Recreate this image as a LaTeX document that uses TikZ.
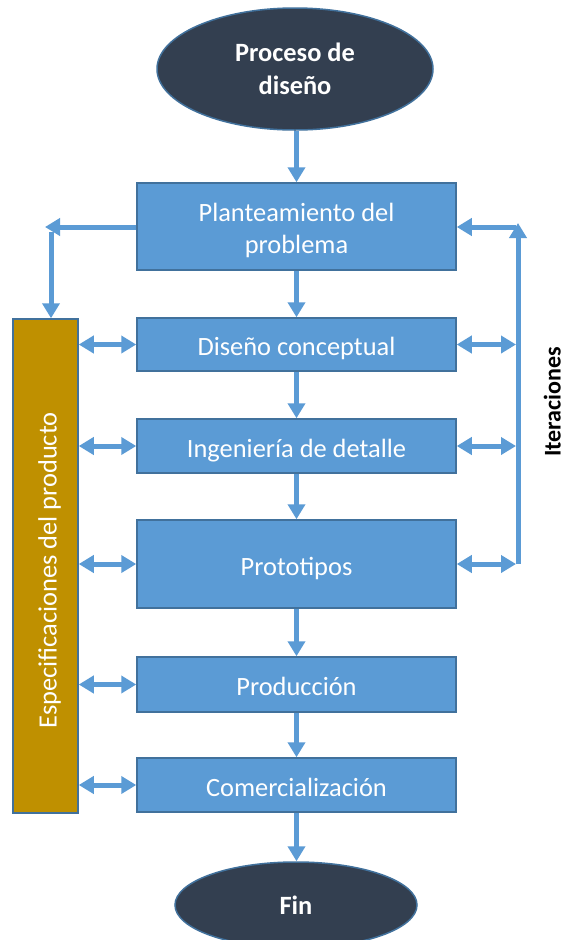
\documentclass[tikz,border=0pt]{standalone}
\usepackage{fontspec}
\setmainfont{Carlito}
\usetikzlibrary{arrows.meta,shapes.geometric}
\definecolor{boxblue}{HTML}{5B9BD5}
\definecolor{edgeblue}{HTML}{41719C}
\definecolor{navy}{HTML}{333F50}
\definecolor{gold}{HTML}{BF9000}
\newcommand{\topstrut}{\rule{0pt}{27pt}}
\newcommand{\botstrut}{\rule[-5pt]{0pt}{0pt}}
\tikzset{
  stepbox/.style={draw=edgeblue, line width=1.5pt, fill=boxblue, text=white,
    minimum width=319pt, align=center, inner sep=0pt,
    font=\fontsize{26.4}{32}\selectfont},
  terminal/.style={ellipse, draw=edgeblue, line width=1.5pt, fill=navy, text=white,
    inner sep=0pt, align=center, font=\fontsize{26.4}{33}\selectfont\bfseries},
  arr/.style={draw=boxblue, line width=5pt, -{Triangle[length=15pt,width=17pt]}},
  darr/.style={draw=boxblue, line width=5pt, {Triangle[length=15pt,width=17pt]}-{Triangle[length=15pt,width=17pt]}},
}
\begin{document}
\begin{tikzpicture}[x=1pt,y=-1pt]
\useasboundingbox[fill=white] (0,0) rectangle (564,940);
\begin{scope}
\clip (0,0) rectangle (564,940);
\node[terminal, minimum width=276pt, minimum height=122pt] (start) at (295,69) {Proceso de\\diseño};
\node[terminal, minimum width=242pt, minimum height=86pt] (fin) at (296,905) {Fin};
\end{scope}
\node[stepbox, minimum height=87pt] (b1) at (296.5,226.5) {\topstrut Planteamiento del\\problema\botstrut};
\node[stepbox, minimum height=53pt] (b2) at (296.5,344.5) {\topstrut Diseño conceptual\botstrut};
\node[stepbox, minimum height=54pt] (b3) at (296.5,446) {\topstrut Ingeniería de detalle\botstrut};
\node[stepbox, minimum height=88pt] (b4) at (296.5,564) {\topstrut Prototipos\botstrut};
\node[stepbox, minimum height=55pt] (b5) at (296.5,684.5) {\topstrut Producción\botstrut};
\node[stepbox, minimum height=54pt] (b6) at (296.5,785) {\topstrut Comercialización\botstrut};
\node[draw=edgeblue, line width=1.5pt, fill=gold, minimum width=65pt, minimum height=494pt, inner sep=0pt] (spec) at (45.5,566) {};
\node[rotate=90, anchor=base, inner sep=0pt, text=white, font=\fontsize{26.4}{32}\selectfont] (spectxt) at (56.5,570.5) {Especificaciones del producto};
\node[rotate=90, anchor=base, inner sep=0pt, font=\fontsize{24}{29}\selectfont\bfseries] (iter) at (560.5,402) {Iteraciones};
% main flow
\draw[arr] (start.south -| b1.north) -- (b1.north);
\draw[arr] (b1) -- (b2);
\draw[arr] (b2) -- (b3);
\draw[arr] (b3) -- (b4);
\draw[arr] (b4) -- (b5);
\draw[arr] (b5) -- (b6);
\draw[arr] (b6.south) -- (b6.south |- fin.north);
% left side
\coordinate (ltip) at (45,227);
\coordinate (ldown) at (51,232);
\draw[arr] (b1.west |- ltip) -- (ltip);
\draw[arr] (ldown) -- (ldown |- spec.north);
\foreach \b in {b2,b3,b4,b5,b6}{
  \draw[darr] (spec.east |- \b) -- (\b.west);
}
% right side iterations
\coordinate (rbot) at (518,564);
\coordinate (rtop) at (518,223);
\coordinate (rh) at (516,227);
\coordinate (rline) at (516,0);
\draw[arr] (rbot) -- (rtop);
\draw[arr] (rh) -- (b1.east |- rh);
\foreach \b in {b2,b3,b4}{
  \draw[darr] (\b.east) -- (\b -| rline);
}
\end{tikzpicture}
\end{document}
